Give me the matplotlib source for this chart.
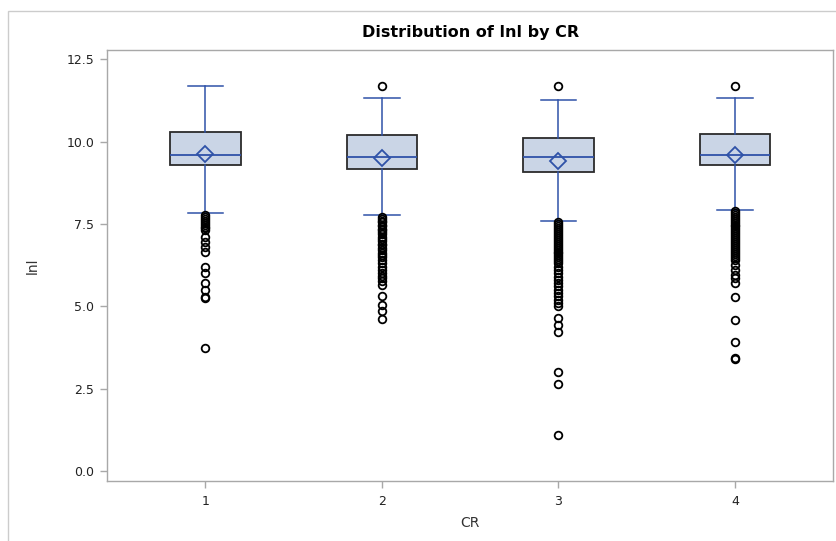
import matplotlib
matplotlib.use("Agg")
import matplotlib.pyplot as plt
from matplotlib.patches import Rectangle

plt.rcParams['font.family'] = ['DejaVu Sans']

categories = ["1", "2", "3", "4"]
q1 = [9.28, 9.18, 9.07, 9.29]
median = [9.59, 9.52, 9.53, 9.59]
q3 = [10.30, 10.19, 10.11, 10.23]
mean = [9.62, 9.49, 9.41, 9.59]
whis_lo = [7.84, 7.76, 7.59, 7.92]
whis_hi = [11.69, 11.31, 11.26, 11.32]

fliers_1 = [7.78, 7.72, 7.66, 7.60, 7.54, 7.48, 7.41, 7.36, 7.31, 7.11, 6.96,
            6.81, 6.65, 6.20, 6.00, 5.70, 5.49, 5.29, 5.25, 3.73]
fliers_2 = [11.69, 7.72, 7.66, 7.60, 7.55, 7.48, 7.42, 7.35, 7.30, 7.25, 7.18,
            7.10, 7.05, 6.98, 6.90, 6.85, 6.78, 6.70, 6.62, 6.55, 6.48, 6.40,
            6.30, 6.20, 6.10, 6.00, 5.92, 5.85, 5.75, 5.65, 5.30, 5.05, 4.85,
            4.62]
fliers_3 = [11.69, 7.56, 7.50, 7.44, 7.38, 7.32, 7.26, 7.20, 7.14, 7.08, 7.02,
            6.96, 6.90, 6.84, 6.78, 6.72, 6.66, 6.60, 6.54, 6.48, 6.42, 6.36,
            6.30, 6.20, 6.10, 6.00, 5.90, 5.80, 5.70, 5.60, 5.50, 5.40, 5.30,
            5.20, 5.10, 5.00, 4.64, 4.43, 4.23, 3.00, 2.64, 1.09]
fliers_4 = [11.69, 7.90, 7.84, 7.78, 7.72, 7.66, 7.60, 7.54, 7.48, 7.42, 7.36,
            7.30, 7.24, 7.18, 7.12, 7.06, 7.00, 6.94, 6.88, 6.82, 6.76, 6.70,
            6.64, 6.58, 6.52, 6.46, 6.40, 6.25, 6.10, 5.95, 5.85, 5.70, 5.27,
            4.58, 3.91, 3.43, 3.40]
fliers = [fliers_1, fliers_2, fliers_3, fliers_4]

title = "Distribution of lnl by CR"
x_label = "CR"
y_label = "lnl"
y_ticks = [0.0, 2.5, 5.0, 7.5, 10.0, 12.5]

blue = "#2F52A8"
fill = "#CAD5E6"
edge = "#2B2B2B"
gray = "#A8A8A8"
text_c = "#333333"

fig = plt.figure(figsize=(8.37, 5.41), dpi=100)
fig.patches.append(Rectangle((8/837, -0.1), 1.2, 1 - 11/541 + 0.1,
                             transform=fig.transFigure, fill=False,
                             edgecolor="#CCCCCC", linewidth=1.0))
ax = fig.add_axes([107/837, (541-480.7)/541, (833-107)/837, (480.7-50)/541])

stats = []
for i, c in enumerate(categories):
    stats.append(dict(label=c, q1=q1[i], med=median[i], q3=q3[i],
                      mean=mean[i], whislo=whis_lo[i], whishi=whis_hi[i],
                      fliers=fliers[i]))

positions = list(range(1, len(categories) + 1))
ax.bxp(stats, positions=positions, widths=0.40, patch_artist=True,
       showmeans=True, showfliers=True,
       boxprops=dict(facecolor=fill, edgecolor=edge, linewidth=1.3),
       medianprops=dict(color=blue, linewidth=1.3),
       whiskerprops=dict(color=blue, linewidth=1.1),
       capprops=dict(color=blue, linewidth=1.1),
       meanprops=dict(marker="D", markerfacecolor="none",
                      markeredgecolor=blue, markersize=8,
                      markeredgewidth=1.3),
       flierprops=dict(marker="o", markerfacecolor="none",
                       markeredgecolor="black", markersize=5.5,
                       markeredgewidth=1.3),
       zorder=3)

ax.set_xlim(0.442, 4.556)
ax.set_ylim(-0.30, 12.78)
ax.set_yticks(y_ticks)
ax.set_yticklabels([f"{v:.1f}" for v in y_ticks])
ax.set_xticks(positions)
ax.set_xticklabels(categories)

for s in ax.spines.values():
    s.set_color(gray)
    s.set_linewidth(1.0)
ax.tick_params(axis="both", colors=gray, labelcolor="#222222",
               labelsize=9, length=5, width=1.0, direction="out")
ax.tick_params(axis="y", pad=4)
ax.tick_params(axis="x", pad=5)

ax.set_xlabel(x_label, fontsize=10, color=text_c, labelpad=6)
ax.set_ylabel(y_label, fontsize=10, color=text_c, labelpad=19)
fig.text(471/837, 1 - 33/541, title, ha="center", va="center",
         fontsize=11.5, fontweight="bold", color="black")

fig.savefig("out.png", dpi=100)
